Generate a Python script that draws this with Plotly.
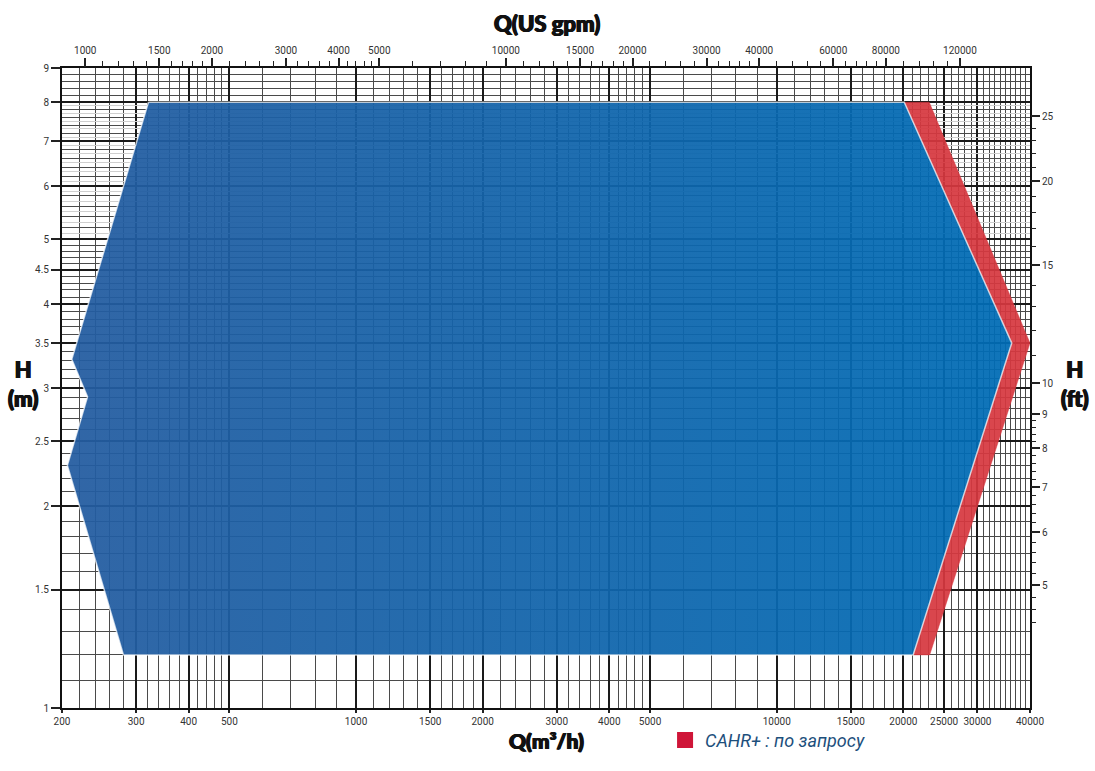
import math
import plotly.graph_objects as go

# перевод единиц
GPM = 4.402868   # 1 м3/ч = 4.4029 US gpm
FT = 3.28084     # 1 м = 3.28084 ft

# рабочая зона CAHR (м3/ч, м)
blue_q = [321, 20100, 36200, 21100, 280, 206, 230, 211, 321]
blue_h = [8.0, 8.0, 3.5, 1.2, 1.2, 2.3, 2.91, 3.31, 8.0]

# зона CAHR+ (по запросу)
red_q = [20100, 23050, 40000, 23100, 21100, 36200, 20100]
red_h = [8.0, 8.0, 3.5, 1.2, 1.2, 3.5, 8.0]

# подписи осей
q_ticks = [200, 300, 400, 500, 1000, 1500, 2000, 3000, 4000, 5000,
           10000, 15000, 20000, 25000, 30000, 40000]
h_ticks = [1, 1.5, 2, 2.5, 3, 3.5, 4, 4.5, 5, 6, 7, 8, 9]
h_labels = ["1", "1.5", "2", "2.5", "3", "3.5", "4", "4.5", "5", "6", "7", "8", "9"]
gpm_ticks = [1000, 1500, 2000, 3000, 4000, 5000, 10000, 15000, 20000,
             30000, 40000, 60000, 80000, 120000]
ft_ticks = [5, 6, 7, 8, 9, 10, 15, 20, 25]


def steps(a, b, d, skip=()):
    out = []
    v = a + d
    while v < b - d / 2:
        r = round(v, 4)
        if r not in skip:
            out.append(r)
        v += d
    return out


# сетка
q_minor = (steps(200, 500, 20, q_ticks) + steps(500, 2000, 100, q_ticks)
           + steps(2000, 5000, 200, q_ticks) + steps(5000, 40000, 1000, q_ticks))
h_minor = (steps(1, 5, 0.1, h_ticks) + steps(5, 9, 0.2, h_ticks))
h_fine = [v for v in steps(5, 8, 0.1) if v not in h_minor and v not in h_ticks]
gpm_minor = (steps(1000, 2000, 100, gpm_ticks) + steps(2000, 5000, 200, gpm_ticks)
             + steps(5000, 20000, 1000, gpm_ticks) + steps(20000, 40000, 2000, gpm_ticks)
             + steps(40000, 80000, 4000, gpm_ticks) + steps(80000, 120000, 8000, gpm_ticks))
ft_minor = (steps(4, 5, 0.2)[1:] + steps(5, 10, 0.2, ft_ticks)
            + steps(10, 25, 1, ft_ticks))
ft_minor = [v for v in ft_minor if not (9 < v < 10)]

tick_font = dict(family="Roboto", size=10, color="#333")
head_font = dict(family="Lato", size=22, color="#111", weight=900,
                 shadow="0.7px 0 0 #111, -0.7px 0 0 #111, 0 0.4px 0 #111")
bottom_font = dict(head_font, size=21)

fig = go.Figure()

fig.add_trace(go.Scatter(
    x=red_q, y=red_h, mode="lines", fill="toself",
    fillcolor="rgba(214,56,64,0.93)", line=dict(color="rgba(214,56,64,0.93)", width=0.5),
    showlegend=False, hoverinfo="skip"
))
fig.add_trace(go.Scatter(
    x=blue_q, y=blue_h, mode="lines", fill="toself",
    fillgradient=dict(type="horizontal",
                      colorscale=[[0, "rgba(36,92,160,0.94)"], [1, "rgba(0,108,181,0.94)"]]),
    line=dict(color="rgba(255,255,255,0.7)", width=1.5),
    showlegend=False, hoverinfo="skip"
))
fig.add_trace(go.Scatter(
    x=[None], y=[None], mode="markers", name="CAHR+ : по запросу",
    marker=dict(symbol="square", size=20, color="#cf1538")
))
fig.add_trace(go.Scatter(
    x=[None], y=[None], xaxis="x2", yaxis="y2", showlegend=False, hoverinfo="skip"
))
fig.add_trace(go.Scatter(
    x=[None], y=[None], xaxis="x", yaxis="y3", showlegend=False, hoverinfo="skip"
))

fig.update_layout(
    width=1095, height=771, autosize=False,
    margin=dict(l=62, r=65, t=68, b=42),
    paper_bgcolor="white", plot_bgcolor="white",
    xaxis=dict(
        type="log", range=[math.log10(200), math.log10(40000)],
        tickvals=q_ticks, ticktext=[str(v) for v in q_ticks],
        ticks="outside", ticklen=3, tickwidth=1.5, tickcolor="#222",
        tickfont=tick_font, tickangle=0, automargin=False,
        showgrid=True, gridcolor="#1a1a1a", gridwidth=2,
        minor=dict(tickvals=q_minor, showgrid=True, gridcolor="#4a4a4a",
                   gridwidth=1, ticks=""),
        showline=True, linecolor="#111", linewidth=2, mirror=True,
        zeroline=False
    ),
    yaxis=dict(
        type="log", range=[0, math.log10(9)],
        tickvals=h_ticks, ticktext=h_labels,
        ticks="outside", ticklen=9, tickwidth=1.5, tickcolor="#222",
        tickfont=tick_font, automargin=False,
        showgrid=True, gridcolor="#1a1a1a", gridwidth=2,
        minor=dict(tickvals=h_minor, showgrid=True, gridcolor="#4a4a4a",
                   gridwidth=1, ticks=""),
        showline=True, linecolor="#111", linewidth=2, mirror=True,
        zeroline=False
    ),
    yaxis3=dict(
        type="log", range=[0, math.log10(9)], overlaying="y",
        tickvals=h_fine, showticklabels=False, ticks="", automargin=False,
        showgrid=True, gridcolor="#cfcfcf", gridwidth=1,
        showline=False, zeroline=False
    ),
    xaxis2=dict(
        type="log", overlaying="x", side="top", anchor="y",
        range=[math.log10(200 * GPM), math.log10(40000 * GPM)],
        tickvals=gpm_ticks, ticktext=[str(v) for v in gpm_ticks],
        ticks="outside", ticklen=9, tickwidth=1.5, tickcolor="#222",
        tickfont=tick_font, tickangle=0, automargin=False,
        minor=dict(tickvals=gpm_minor, ticks="outside", ticklen=6,
                   tickwidth=1, tickcolor="#222", showgrid=False),
        showgrid=False, showline=False, zeroline=False
    ),
    yaxis2=dict(
        type="log", overlaying="y", side="right", anchor="x",
        range=[math.log10(FT), math.log10(9 * FT)],
        tickvals=ft_ticks, ticktext=[str(v) for v in ft_ticks],
        ticks="outside", ticklen=9, tickwidth=1.5, tickcolor="#222",
        tickfont=tick_font, automargin=False,
        minor=dict(tickvals=ft_minor, ticks="outside", ticklen=5,
                   tickwidth=1, tickcolor="#222", showgrid=False),
        showgrid=False, showline=False, zeroline=False
    ),
    legend=dict(
        x=0.623, y=-0.0505, xanchor="left", yanchor="middle",
        bgcolor="rgba(0,0,0,0)",
        font=dict(family="Roboto", size=18, style="italic", color="#1d4f7c")
    ),
    annotations=[
        dict(text="Q(US gpm)", x=0.501, y=1.0703, xref="paper", yref="paper",
             xanchor="center", yanchor="middle", showarrow=False, font=head_font),
        dict(text="Q(m³/h)", x=0.501, y=-0.0515, xref="paper", yref="paper",
             xanchor="center", yanchor="middle", showarrow=False, font=bottom_font),
        dict(text="H<br>(m)", x=-0.0403, y=0.5068, xref="paper", yref="paper",
             xanchor="center", yanchor="middle", showarrow=False,
             font=head_font, align="center"),
        dict(text="H<br>(ft)", x=1.0465, y=0.5068, xref="paper", yref="paper",
             xanchor="center", yanchor="middle", showarrow=False,
             font=head_font, align="center"),
    ],
)

# страница без полей, размер графика фиксированный
fit_js = """
document.documentElement.style.margin='0';
document.body.style.margin='0';
document.body.style.overflow='hidden';
var gd = document.getElementById('{plot_id}');
gd.style.width='1095px';
gd.style.height='771px';
"""
fig.write_html("out.html", post_script=fit_js,
               config={"displayModeBar": False, "responsive": False})
